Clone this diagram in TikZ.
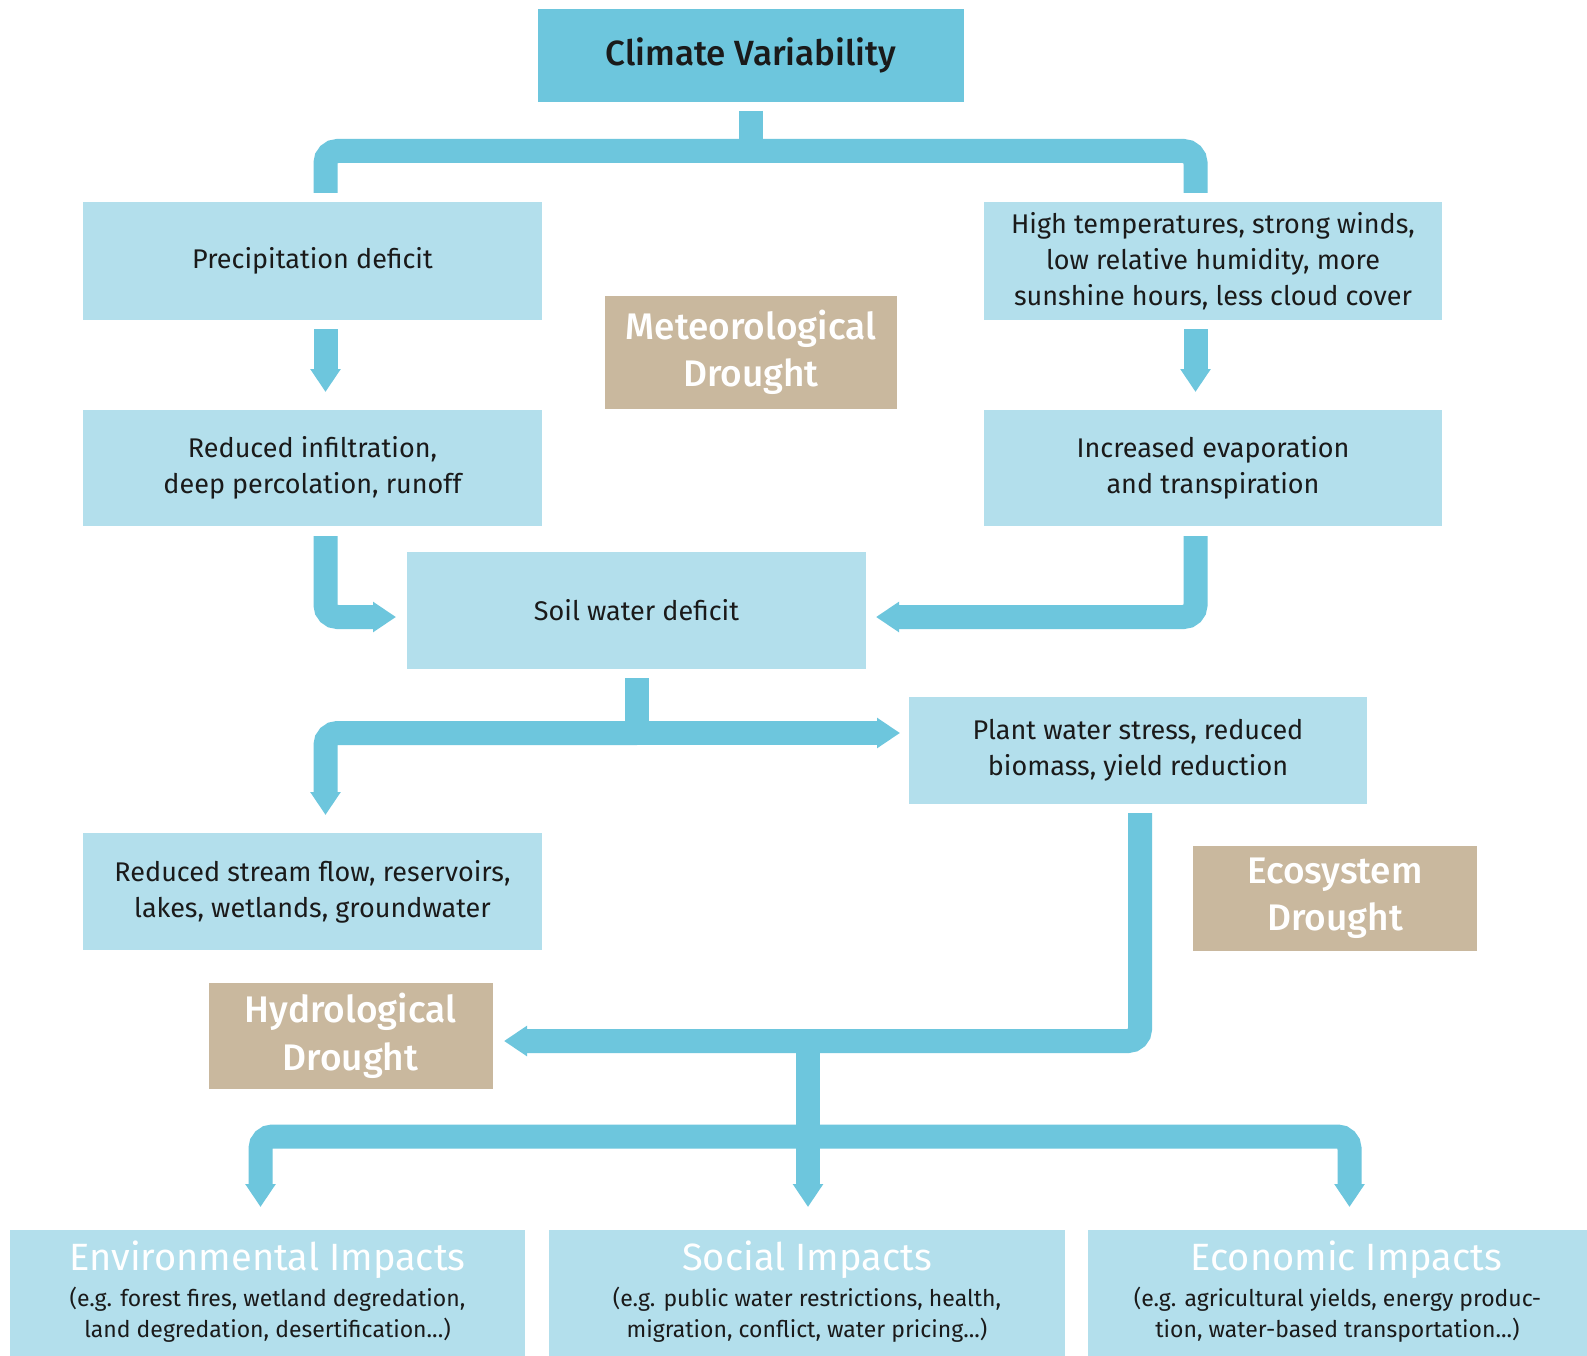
\documentclass[tikz,border=0pt]{standalone}
\usepackage{fontspec}
\setmainfont{Fira Sans}
\newfontfamily\medfont{Fira Sans Medium}
\usetikzlibrary{arrows.meta,calc}
\definecolor{pipe}{HTML}{6DC6DD}
\definecolor{lightbox}{HTML}{B3DFEC}
\definecolor{tanbox}{HTML}{C9B89E}
\definecolor{ink}{HTML}{1A1A1A}
\begin{document}
\begin{tikzpicture}[x=1pt,y=-1pt,
  box/.style={fill=lightbox, inner sep=0pt, outer sep=0pt, align=center, text=ink,
    font=\fontsize{27}{36}\selectfont, minimum width=459pt, minimum height=117pt},
  topbox/.style={fill=pipe, inner sep=0pt, outer sep=0pt, text=ink,
    font=\medfont\fontsize{35}{40}\selectfont, minimum width=426pt, minimum height=93pt},
  droughtbox/.style={fill=tanbox, inner sep=0pt, outer sep=0pt, align=center, text=white,
    font=\medfont\fontsize{37}{47.5}\selectfont, minimum width=284pt, minimum height=106pt},
  impactbox/.style={fill=lightbox, inner sep=0pt, outer sep=0pt, minimum width=516pt, minimum height=126pt},
  imptitle/.style={inner sep=0pt, text=white, font=\fontsize{38}{42}\selectfont},
  impsub/.style={inner sep=0pt, align=center, text=ink, font=\fontsize{23}{30.5}\selectfont},
  pipeline/.style={draw=pipe, line width=24pt, rounded corners=12pt},
  arr/.style={-{Triangle[length=23pt,width=29pt]}}
]
\useasboundingbox (0,0) rectangle (1587,1356);
\fill[white] (0,0) rectangle (1587,1356);

% boxes
\node[topbox] (cv) at (751,55.5) {Climate Variability};
\node[box, minimum height=118pt] (pd) at (312.5,261) {Precipitation deficit};
\node[box, minimum width=458pt, minimum height=118pt] (ht) at (1213,261)
  {High temperatures, strong winds,\\ low relative humidity, more\\ sunshine hours, less cloud cover};
\node[droughtbox, minimum width=292pt, minimum height=113pt] (md) at (751,352.5) {Meteorological\\ Drought};
\node[box, minimum height=116pt] (ri) at (312.5,468) {Reduced infiltration,\\ deep percolation, runoff};
\node[box, minimum width=458pt, minimum height=116pt] (ie) at (1213,468) {Increased evaporation\\ and transpiration};
\node[box] (sw) at (636.5,610.5) {Soil water deficit};
\node[box, minimum width=458pt, minimum height=107pt] (pw) at (1138,750.5) {Plant water stress, reduced\\ biomass, yield reduction};
\node[box] (rs) at (312.5,891.5) {Reduced stream flow, reservoirs,\\ lakes, wetlands, groundwater};
\node[droughtbox, minimum height=105pt] (ed) at (1335,898) {Ecosystem\\ Drought};
\node[droughtbox] (hd) at (350.5,1036) {Hydrological\\ Drought};

\node[impactbox, minimum width=515pt] (env) at (267.5,1293) {};
\node[impactbox] (soc) at (807,1293) {};
\node[impactbox, minimum width=499pt] (eco) at (1337.5,1293) {};
\node[imptitle] (envt) at ($(env.north)+(0,30)$) {Environmental Impacts};
\node[impsub] (envs) at ($(env.north)+(0,84.5)$) {(e.g. forest fires, wetland degredation,\\ land degredation, desertification...)};
\node[imptitle] (soct) at ($(soc.north)+(0,30)$) {Social Impacts};
\node[impsub] (socs) at ($(soc.north)+(0,84.5)$) {(e.g. public water restrictions, health,\\ migration, conflict, water pricing...)};
\node[imptitle] (ecot) at ($(eco.north)+(9,30)$) {Economic Impacts};
\node[impsub] (ecos) at ($(eco.north)+(0,84.5)$) {(e.g. agricultural yields, energy produc-\\ tion, water-based transportation...)};

% junctions
\coordinate (j1) at (751,151);
\coordinate (j2) at (637,733);
\coordinate (j3) at (808,1041);
\coordinate (j4) at (808,1136.5);

% connectors
\draw[pipeline] ($(cv.south)+(0,9)$) -- (j1);
\draw[pipeline] ($(pd.north)+(13,-9)$) |- (j1) -| ($(ht.north)+(-17.5,-9)$);
\draw[pipeline,arr] ($(pd.south)+(13,9)$) -- ($(ri.north)+(13,-18)$);
\draw[pipeline,arr] ($(ht.south)+(-17.5,9)$) -- ($(ie.north)+(-17.5,-18)$);
\draw[pipeline,arr] ($(ri.south)+(13,10)$) |- ($(sw.west)+(-11,6.5)$);
\draw[pipeline,arr] ($(ie.south)+(-17.5,10)$) |- ($(sw.east)+(10,6.5)$);
\draw[pipeline] ($(sw.south)+(0.5,9)$) -- (j2);
\draw[pipeline,arr] (j2) -- ($(pw.west)+(-9,-17.5)$);
\draw[pipeline,arr] (j2) -| ($(rs.north)+(13,-18)$);
\draw[pipeline,arr] ($(pw.south)+(2,9)$) |- ($(hd.east)+(11.5,5)$);
\draw[pipeline,arr] (j3) -- ($(soc.north)+(1,-23)$);
\draw[pipeline,arr] (j4) -| ($(env.north)+(-7,-23)$);
\draw[pipeline,arr] (j4) -| ($(eco.north)+(12,-23)$);
\end{tikzpicture}
\end{document}
